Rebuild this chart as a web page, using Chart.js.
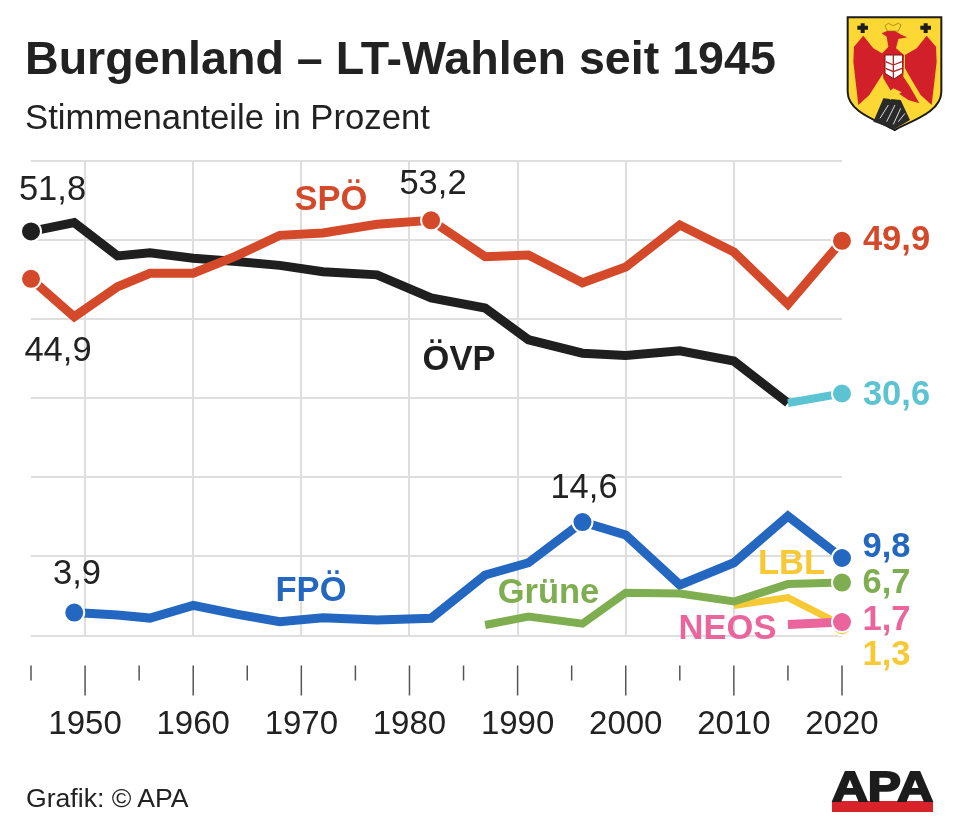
<!DOCTYPE html>
<html><head><meta charset="utf-8">
<script src="https://cdn.jsdelivr.net/npm/chart.js@4"></script>
<style>
html,body{margin:0;padding:0;background:#fff;width:960px;height:829px;overflow:hidden}
body{position:relative;font-family:"Liberation Sans",Arial,sans-serif;color:#222}
canvas{position:absolute;left:0;top:0}
.t{position:absolute;white-space:nowrap}
svg{position:absolute}
</style></head><body>
<canvas id="c" width="960" height="829"></canvas>
<div class="t" style="left:25px;top:33px;font-size:46.6px;font-weight:700;line-height:50px">Burgenland – LT-Wahlen seit 1945</div>
<div class="t" style="left:25px;top:97px;font-size:34.7px;line-height:40px">Stimmenanteile in Prozent</div>
<div class="t" style="left:26px;top:783px;font-size:26.6px;line-height:30px">Grafik: © APA</div>

<svg style="left:830px;top:5px" width="125" height="130" viewBox="0 0 375 390">
<path d="M53 37H334V260C334 320 250 345 194 375C138 345 53 320 53 260Z" fill="#fdd835" stroke="#1c1c1c" stroke-width="6"/>
<path d="M100 92L72 125L70 170L85 300L118 270L150 220L165 195L165 150L130 130Z" fill="#d2202a"/>
<path d="M290 92L318 125L320 170L305 300L272 270L245 225L225 190L225 150L260 130Z" fill="#d2202a"/>
<path d="M155 85L185 72L215 90L232 97L205 102L198 130L222 150L220 215L240 245L268 295L235 285L205 265L185 262L160 220L152 150L175 125L170 95Z" fill="#d2202a"/>
<path d="M165 62L175 55L190 62L205 55L213 60L205 78H172Z" fill="#fdd835" stroke="#8a6d00" stroke-width="2"/>
<path d="M165 150H218V205L192 222L165 205Z" fill="#fff" stroke="#7a1015" stroke-width="3"/>
<path d="M190 150V220M167 170L190 180M190 180L216 170M167 190L190 200M190 200L216 190" stroke="#b0242a" stroke-width="4" fill="none"/>
<path d="M130 350L160 280L212 285L240 345L194 372Z" fill="#2a2a2a"/>
<path d="M150 340L175 300M170 350L195 300M190 358L212 310M205 350L225 325" stroke="#ddd" stroke-width="3" fill="none"/>
<path d="M172 265L190 250L215 262L180 285Z" fill="#fdd835"/>
<path d="M92 55H104V62H114V74H104V84H92V74H82V62H92Z" fill="#1c1c1c"/>
<path d="M281 55H293V62H303V74H293V84H281V74H271V62H281Z" fill="#1c1c1c"/>
</svg>

<svg style="left:800px;top:750px" width="160" height="70" viewBox="0 0 160 70">
<rect x="32" y="51" width="101" height="11" fill="#d8232a"/>
<text x="32" y="51" font-family="Liberation Sans" font-weight="700" font-size="43" textLength="101" lengthAdjust="spacingAndGlyphs" fill="#1c1c1c" stroke="#1c1c1c" stroke-width="2">APA</text>
</svg>

<script>
const years   = [1945,1949,1953,1956,1960,1964,1968,1972,1977,1982,1987,1991,1996,2000,2005,2010,2015,2020];
const spoe    = [45.1,40.3,44.1,45.8,45.8,48.0,50.6,50.9,52.0,52.5,47.9,48.1,44.6,46.6,51.9,48.5,41.9,49.9];
const oevp    = [51.1,52.2,48.0,48.4,47.7,47.3,46.8,46.0,45.6,42.7,41.4,37.4,35.7,35.4,36.0,34.7,29.4,null];
const oevpNew = [null,null,null,null,null,null,null,null,null,null,null,null,null,null,null,null,29.4,30.6];
const fpoe    = [null,2.9,2.6,2.2,3.8,2.7,1.75,2.25,1.96,2.17,7.65,9.2,14.35,12.7,6.4,9.2,15.1,9.8];
const gruene  = [null,null,null,null,null,null,null,null,null,null,1.33,2.4,1.5,5.4,5.3,4.3,6.5,6.7];
const lbl     = [null,null,null,null,null,null,null,null,null,null,null,null,null,null,null,3.8,4.8,1.3];
const neos    = [null,null,null,null,null,null,null,null,null,null,null,null,null,null,null,null,1.4,1.7];
const tickLabelYears = [1950,1960,1970,1980,1990,2000,2010,2020];
const gridYears      = [1950,1960,1970,1980,1990,2000,2010];

const RED='#d4492a',BLACK='#1f1f1f',CYAN='#5cc3d3',BLUE='#2367c0',GREEN='#7fae50',YELLOW='#f6c935',PINK='#e9659c';

const annotations = [
 {t:'51,8',x:52.5,y:190,c:'#222'},{t:'44,9',x:58,y:351,c:'#222'},{t:'53,2',x:433,y:184,c:'#222'},
 {t:'14,6',x:584,y:488,c:'#222'},{t:'3,9',x:77,y:574,c:'#222'},
 {t:'SPÖ',x:331,y:200,c:RED,b:1},{t:'ÖVP',x:459,y:360,c:BLACK,b:1},{t:'FPÖ',x:311,y:591,c:BLUE,b:1},
 {t:'Grüne',x:548.5,y:593,c:GREEN,b:1},{t:'LBL',x:791.5,y:564,c:YELLOW,b:1},{t:'NEOS',x:727.5,y:629,c:PINK,b:1},
 {t:'49,9',x:896.5,y:240,c:RED,b:1},{t:'30,6',x:896.5,y:395,c:CYAN,b:1},
 {t:'9,8',x:886.5,y:547,c:BLUE,b:1},{t:'6,7',x:886.5,y:583,c:GREEN,b:1},
 {t:'1,7',x:886.5,y:620,c:PINK,b:1},{t:'1,3',x:886.5,y:655,c:YELLOW,b:1}
];

const pts = a => years.map((x,i)=>({x,y:a[i]}));
function ds(label,arr,color,marked,w){
  return {label,data:pts(arr),borderColor:color,backgroundColor:color,borderWidth:w||9,
    borderJoinStyle:'miter',borderCapStyle:'butt',tension:0,clip:false,spanGaps:false,
    pointBorderColor:'#fff',pointBorderWidth:2,pointHoverRadius:0,
    pointRadius:c=>marked.includes(c.raw&&c.raw.x)?10:0};
}

const axisMarks = {
  id:'axisMarks',
  beforeDatasetsDraw(ch){
    const s=ch.scales.x,ctx=ch.ctx,base=ch.scales.y.bottom;
    ctx.save();ctx.strokeStyle='#555';ctx.lineWidth=1.5;
    s.ticks.forEach((t,i)=>{
      const x=s.getPixelForTick(i),long=t.value%10===0;
      ctx.beginPath();ctx.moveTo(x,base+30);ctx.lineTo(x,base+(long?60:45));ctx.stroke();
    });
    ctx.restore();
  },
  afterDatasetsDraw(ch){
    const ctx=ch.ctx;ctx.save();ctx.textAlign='center';ctx.textBaseline='middle';
    annotations.forEach(a=>{
      ctx.font=(a.b?'700 ':'')+'34.5px "Liberation Sans"';ctx.fillStyle=a.c;ctx.fillText(a.t,a.x,a.y);
    });
    ctx.restore();
  }
};

new Chart(document.getElementById('c'),{
  type:'line',
  data:{datasets:[
    ds('NEOS',neos,PINK,[2020]),
    ds('Grüne',gruene,GREEN,[2020],8),
    ds('LBL',lbl,YELLOW,[2020],7),
    ds('FPÖ',fpoe,BLUE,[1949,1996,2020]),
    ds('SPÖ',spoe,RED,[1945,1982,2020]),
    ds('ÖVP 2020',oevpNew,CYAN,[2020],8),
    ds('ÖVP',oevp,BLACK,[1945])
  ]},
  plugins:[axisMarks],
  options:{
    responsive:false,animation:false,devicePixelRatio:1,
    layout:{padding:{left:31,right:118,top:161,bottom:0}},
    plugins:{legend:{display:false},tooltip:{enabled:false},title:{display:false}},
    scales:{
      x:{type:'linear',min:1945,max:2020,
        border:{display:false},
        afterFit(s){s.height=193.5;s.paddingLeft=0;s.paddingRight=0;},
        afterBuildTicks(s){s.ticks=[];for(let v=1945;v<=2020;v+=5)s.ticks.push({value:v});},
        grid:{drawTicks:false,lineWidth:2,color:c=>gridYears.includes(c.tick&&c.tick.value)?'#dedede':'rgba(0,0,0,0)'},
        ticks:{autoSkip:false,maxRotation:0,padding:70,color:'#222',font:{family:'Liberation Sans',size:33},
          callback:v=>tickLabelYears.includes(v)?String(v):''}},
      y:{min:0,max:60,
        border:{display:false},
        afterFit(s){s.width=0;},
        grid:{drawTicks:false,lineWidth:2,color:'#dedede'},
        ticks:{display:false,stepSize:10}}
    }
  }
});
</script>
</body></html>
